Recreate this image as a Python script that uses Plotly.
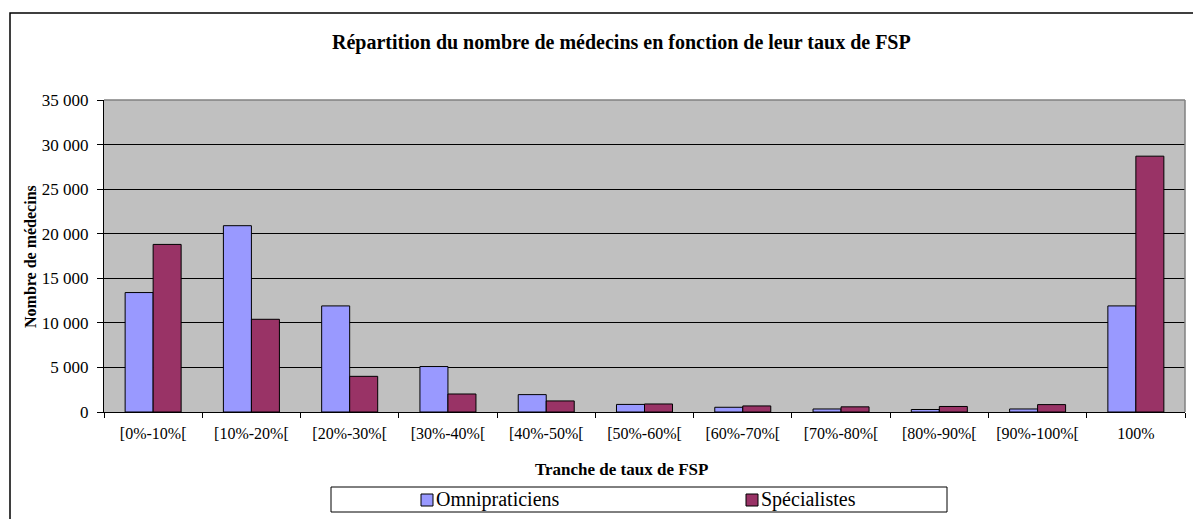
import plotly.graph_objects as go

categories = ["[0%-10%[", "[10%-20%[", "[20%-30%[", "[30%-40%[", "[40%-50%[",
              "[50%-60%[", "[60%-70%[", "[70%-80%[", "[80%-90%[", "[90%-100%[", "100%"]
omnipraticiens = [13400, 20900, 11900, 5100, 1950, 850, 530, 340, 280, 340, 11900]
specialistes = [18800, 10400, 4000, 2020, 1240, 900, 680, 580, 620, 830, 28700]

title_text = "Répartition du nombre de médecins en fonction de leur taux de FSP"
x_title = "Tranche de taux de FSP"
y_title = "Nombre de médecins"
series_names = ["Omnipraticiens", "Spécialistes"]
colors = ["#9999FF", "#993366"]

W, H = 1193, 519
L, R, T, B = 104, 8, 100, 107
PW, PH = W - L - R, H - T - B
FONT = "Liberation Serif"


def px(x):
    return (x - L) / PW


def py(y):
    return (H - B - y) / PH


fig = go.Figure()
for name, vals, col in zip(series_names, [omnipraticiens, specialistes], colors):
    fig.add_trace(go.Bar(x=categories, y=vals, name=name, marker_color=col,
                         marker_line_color="black", marker_line_width=1,
                         showlegend=False, hoverinfo="skip"))

shapes = []
annotations = []
# outer chart border
shapes.append(dict(type="rect", xref="paper", yref="paper",
                   x0=px(10), x1=px(1200), y0=py(530), y1=py(13),
                   line=dict(color="black", width=1.5), fillcolor="rgba(0,0,0,0)", layer="below"))
# plot-area border (gray top & right)
shapes.append(dict(type="line", xref="paper", yref="paper", x0=0, x1=1, y0=1, y1=1,
                   line=dict(color="#808080", width=1.5)))
shapes.append(dict(type="line", xref="paper", yref="paper", x0=1, x1=1, y0=0, y1=1,
                   line=dict(color="#808080", width=1.5)))
# legend box
shapes.append(dict(type="rect", xref="paper", yref="paper",
                   x0=px(331), x1=px(947), y0=py(512), y1=py(487),
                   line=dict(color="black", width=1), fillcolor="white"))
leg_marker_x = [421, 746]
for mx, col, name in zip(leg_marker_x, colors, series_names):
    shapes.append(dict(type="rect", xref="paper", yref="paper",
                       x0=px(mx), x1=px(mx + 12), y0=py(506), y1=py(494),
                       line=dict(color="black", width=1), fillcolor=col))
    annotations.append(dict(text=name, xref="paper", yref="paper", x=px(mx + 13), y=py(500),
                            xanchor="left", yanchor="middle", showarrow=False,
                            font=dict(family=FONT, size=20, color="black")))

annotations.append(dict(text="<b>" + title_text + "</b>", xref="paper", yref="paper",
                        x=px(621), y=py(42), xanchor="center", yanchor="middle", showarrow=False,
                        font=dict(family=FONT, size=20, color="black")))
annotations.append(dict(text="<b>" + x_title + "</b>", xref="paper", yref="paper",
                        x=px(621), y=py(469), xanchor="center", yanchor="middle", showarrow=False,
                        font=dict(family=FONT, size=17, color="black")))
annotations.append(dict(text="<b>" + y_title + "</b>", xref="paper", yref="paper",
                        x=px(30), y=py(257), xanchor="center", yanchor="middle", showarrow=False,
                        textangle=-90, font=dict(family=FONT, size=16, color="black")))

fig.update_layout(
    width=W, height=H,
    margin=dict(l=L, r=R, t=T, b=B, pad=0),
    paper_bgcolor="white", plot_bgcolor="#C0C0C0",
    barmode="group", bargap=0.43, bargroupgap=0,
    separators=", ",
    font=dict(family=FONT, size=16, color="black"),
    shapes=shapes, annotations=annotations,
    showlegend=False,
)
fig.update_xaxes(type="category", tickson="boundaries", ticks="outside", ticklen=5,
                 tickcolor="black", showline=True, linecolor="black", linewidth=1,
                 showgrid=False, ticklabelstandoff=7,
                 tickfont=dict(family=FONT, size=16, color="black"))
fig.update_yaxes(range=[0, 35000], tickvals=[0, 5000, 10000, 15000, 20000, 25000, 30000, 35000],
                 tickformat=",d", ticks="outside", ticklen=6, tickcolor="black",
                 showline=True, linecolor="black", linewidth=1,
                 showgrid=True, gridcolor="black", gridwidth=1, zeroline=False,
                 ticklabelstandoff=5,
                 tickfont=dict(family=FONT, size=17, color="black"))

fig.write_html("out.html", config={"displayModeBar": False},
               post_script="document.body.style.margin='0';")
